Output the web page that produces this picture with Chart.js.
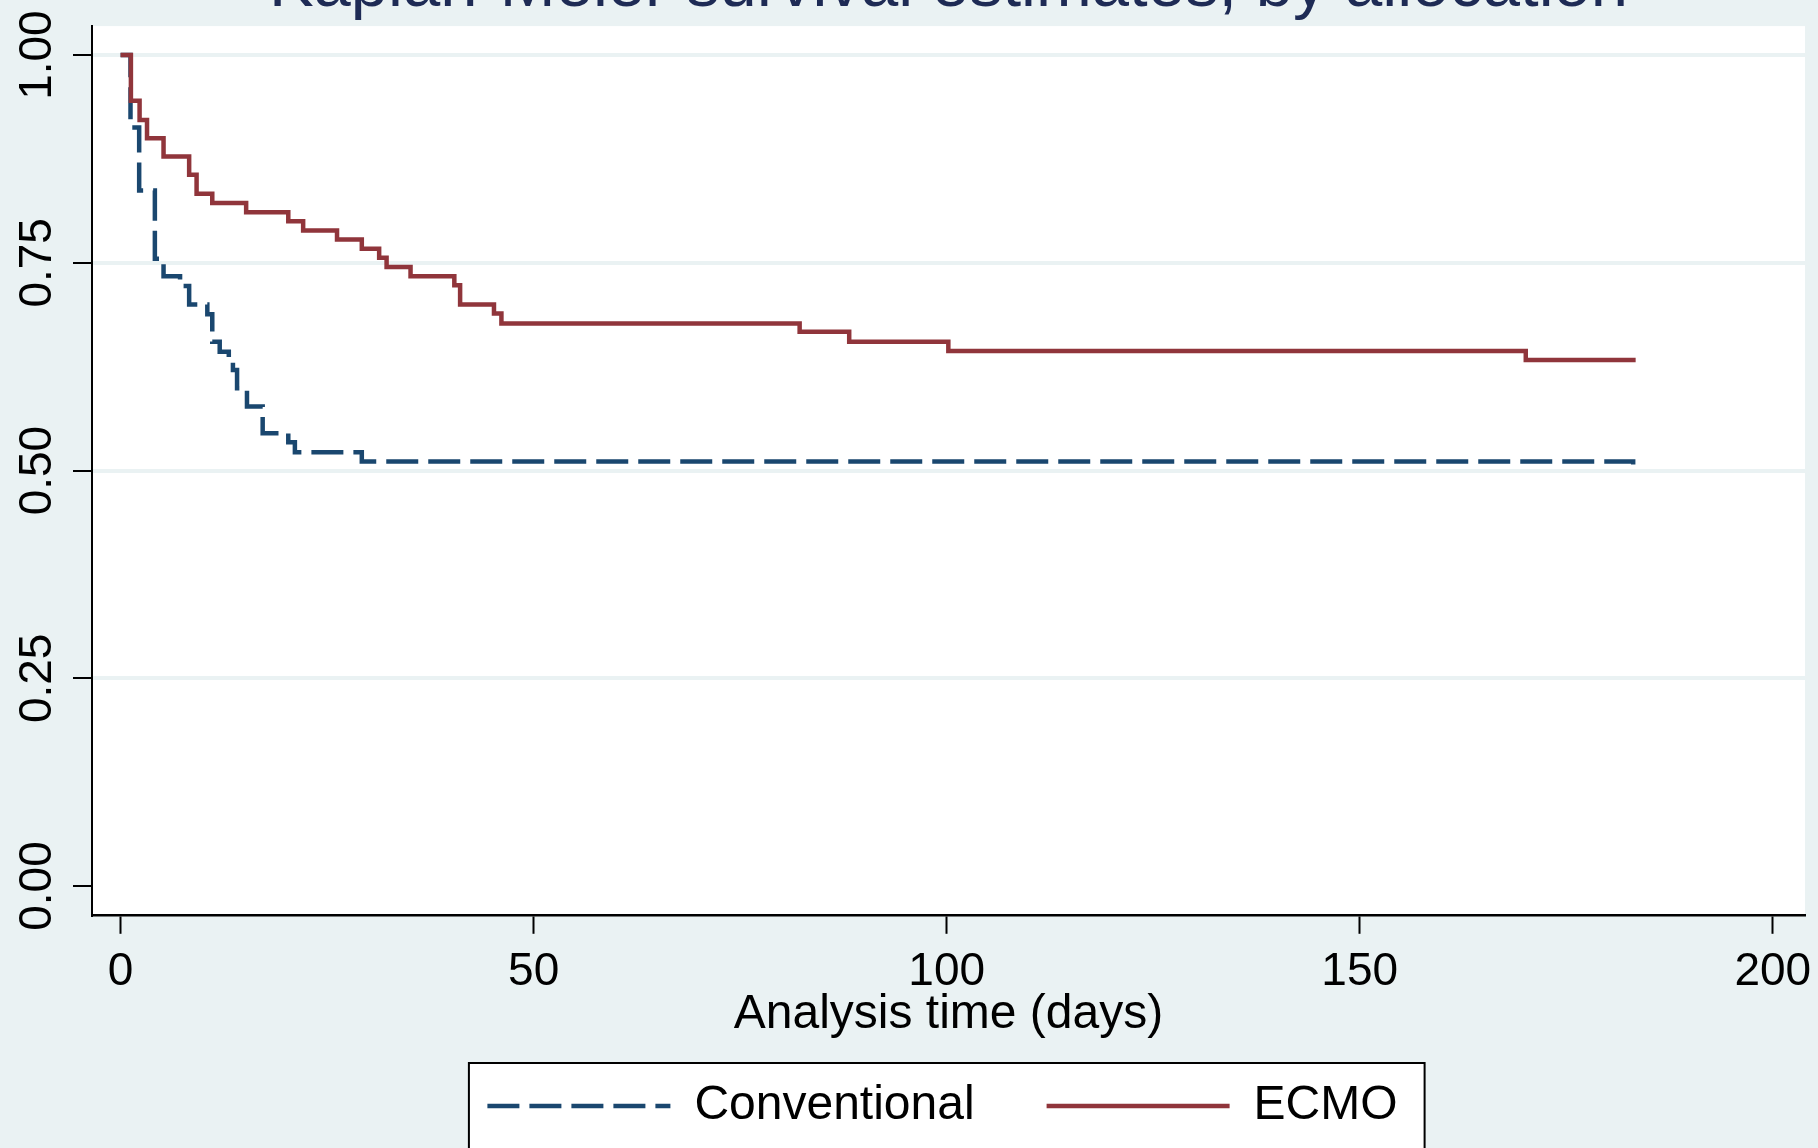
<!DOCTYPE html>
<html>
<head>
<meta charset="utf-8">
<script src="https://cdn.jsdelivr.net/npm/chart.js@4.4.1/dist/chart.umd.min.js"></script>
<style>
  html, body { margin: 0; padding: 0; background: #eaf2f3; overflow: hidden; width: 1818px; height: 1148px; }
  #wrap { position: absolute; left: 0; top: -80px; width: 1818px; height: 1240px; }
</style>
</head>
<body>
<div id="wrap"><canvas id="c" width="1818" height="1240" style="width:1818px;height:1240px"></canvas></div>
<script>
// ---- data ----
const titleText = "Kaplan-Meier survival estimates, by allocation";
const xTitle = "Analysis time (days)";
const seriesNames = ["Conventional", "ECMO"];

const convTime = [0, 1.2, 2.25, 4.15, 5.2, 7.2, 8.3, 10.5, 11.1, 12.0, 13.1, 13.6, 14.1, 15.3, 17.2, 20.3, 21.1, 29.2, 183.1];
const convSurv = [1.000, 0.913, 0.837, 0.755, 0.734, 0.722, 0.700, 0.688, 0.655, 0.643, 0.632, 0.621, 0.599, 0.577, 0.545, 0.534, 0.522, 0.511, 0.500];

const ecmoTime = [0, 1.25, 2.3, 3.2, 5.2, 8.3, 9.2, 11.1, 15.2, 20.3, 22.1, 26.2, 29.2, 31.3, 32.2, 35.1, 40.4, 41.1, 45.2, 46.1, 82.2, 88.2, 100.2, 170.1, 183.4];
const ecmoSurv = [1.000, 0.945, 0.922, 0.900, 0.878, 0.856, 0.833, 0.822, 0.811, 0.800, 0.789, 0.778, 0.767, 0.756, 0.745, 0.734, 0.723, 0.700, 0.689, 0.677, 0.667, 0.655, 0.644, 0.633, 0.633];

const xTicks = [0, 50, 100, 150, 200];
const yTicks = [0, 0.25, 0.5, 0.75, 1.0];

// ---- styles ----
const FONT = "'Liberation Sans', Arial, Helvetica, sans-serif";
const BG = '#eaf2f3';
const GRID = '#eaf2f3';
const NAVY = '#1a476f';
const MAROON = '#90353b';
const TITLE_COLOR = '#1e2b55';
const LINE_W = 4.5;

const toPts = (t, s) => t.map((v, i) => ({ x: v, y: s[i] }));

const bgPlugin = {
  id: 'stataBg',
  afterLayout(chart) {
    const lg = chart.legend;
    if (lg) { lg.left -= 6; lg.right -= 6; }
  },
  beforeDraw(chart) {
    const { ctx, chartArea: a, width, height } = chart;
    ctx.save();
    ctx.fillStyle = BG;
    ctx.fillRect(0, 0, width, height);
    ctx.fillStyle = '#ffffff';
    ctx.fillRect(a.left, a.top, a.right - a.left, a.bottom - a.top);
    const lg = chart.legend;
    if (lg && lg.legendHitBoxes && lg.legendHitBoxes.length) {
      const hb = lg.legendHitBoxes;
      const first = hb[0], last = hb[hb.length - 1];
      const cy = first.top + 24;
      const x0 = first.left - 18.5;
      const x1 = last.left + last.width + 27;
      const y0 = cy - 43;
      ctx.fillStyle = '#ffffff';
      ctx.fillRect(x0, y0, x1 - x0, height - y0 + 10);
      ctx.strokeStyle = '#000000';
      ctx.lineWidth = 2;
      ctx.strokeRect(x0, y0, x1 - x0, height - y0 + 10);
    }
    ctx.restore();
  }
};

const noPad = (s) => { s.paddingLeft = 0; s.paddingRight = 0; s.paddingTop = 0; s.paddingBottom = 0; };

new Chart(document.getElementById('c'), {
  type: 'line',
  data: {
    datasets: [
      {
        label: seriesNames[0],
        data: toPts(convTime, convSurv),
        borderColor: NAVY,
        backgroundColor: NAVY,
        borderWidth: LINE_W,
        borderDash: [32, 10],
        stepped: true,
        pointRadius: 0,
        fill: false,
        order: 1
      },
      {
        label: seriesNames[1],
        data: toPts(ecmoTime, ecmoSurv),
        borderColor: MAROON,
        backgroundColor: MAROON,
        borderWidth: LINE_W,
        stepped: true,
        pointRadius: 0,
        fill: false,
        order: 0
      }
    ]
  },
  options: {
    responsive: false,
    animation: false,
    devicePixelRatio: 1,
    layout: { autoPadding: false, padding: { left: 0, right: 13, top: 0, bottom: 20 } },
    plugins: {
      title: {
        display: true,
        text: titleText,
        fullSize: false,
        color: TITLE_COLOR,
        font: { family: FONT, size: 67, weight: 'normal' },
        padding: { top: 27.5, bottom: -1.8 }
      },
      legend: {
        display: true,
        position: 'bottom',
        fullSize: false,
        labels: {
          usePointStyle: true,
          pointStyle: 'line',
          pointStyleWidth: 183,
          padding: 72,
          color: '#000000',
          font: { family: FONT, size: 48 },
          sort: (a, b) => a.datasetIndex - b.datasetIndex,
          generateLabels: (chart) => {
            const items = Chart.defaults.plugins.legend.labels.generateLabels(chart);
            return items.map(it => {
              const ds = chart.data.datasets[it.datasetIndex];
              it.lineDash = ds.borderDash || [];
              it.lineWidth = ds.borderWidth;
              it.strokeStyle = ds.borderColor;
              it.fillStyle = ds.borderColor;
              return it;
            });
          }
        }
      },
      tooltip: { enabled: false }
    },
    scales: {
      x: {
        type: 'linear',
        position: 'bottom',
        min: -3.46,
        max: 203.9,
        afterBuildTicks: (s) => { s.ticks = xTicks.map(v => ({ value: v })); },
        afterFit: (s) => { s.height = 95.2; noPad(s); },
        ticks: {
          color: '#000000',
          font: { family: FONT, size: 46 },
          padding: 10.5,
          maxRotation: 0,
          minRotation: 0,
          callback: (v) => String(v)
        },
        grid: {
          display: true,
          drawOnChartArea: false,
          drawTicks: true,
          tickLength: 19,
          tickColor: '#000000',
          tickWidth: 2,
          color: '#000000'
        },
        border: { display: true, color: '#000000', width: 2.5 },
        title: {
          display: true,
          text: xTitle,
          color: '#000000',
          font: { family: FONT, size: 48 },
          padding: { top: 0, bottom: -34 }
        }
      },
      y: {
        type: 'linear',
        position: 'left',
        min: -0.0346,
        max: 1.0349,
        afterBuildTicks: (s) => { s.ticks = yTicks.map(v => ({ value: v })); },
        afterFit: (s) => { s.width = 92; noPad(s); },
        ticks: {
          color: '#000000',
          font: { family: FONT, size: 46 },
          padding: -10.5,
          minRotation: 90,
          maxRotation: 90,
          crossAlign: 'center',
          callback: (v) => Number(v).toFixed(2)
        },
        grid: {
          display: true,
          drawOnChartArea: true,
          drawTicks: true,
          tickLength: 19,
          tickColor: '#000000',
          tickWidth: 2,
          lineWidth: 4,
          color: (c) => (c.tick && c.tick.value === 0) ? 'rgba(0,0,0,0)' : GRID
        },
        border: { display: true, color: '#000000', width: 2 }
      }
    }
  },
  plugins: [bgPlugin]
});
</script>
</body>
</html>
